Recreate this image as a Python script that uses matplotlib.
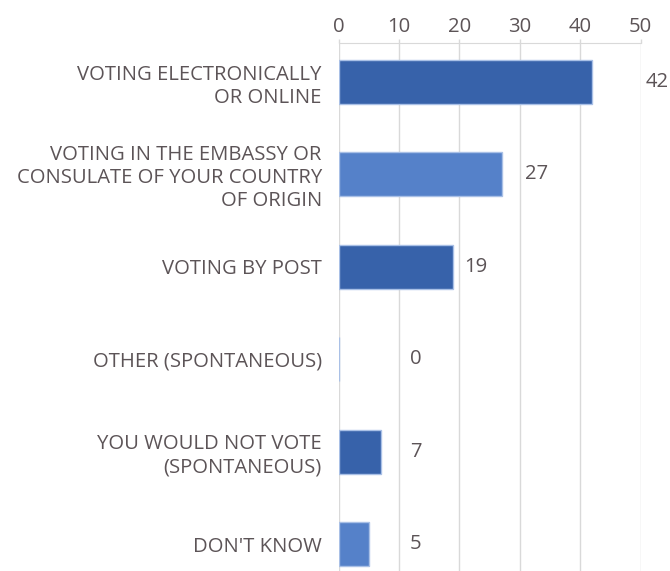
import numpy as np
import matplotlib
matplotlib.use("Agg")
import matplotlib.pyplot as plt

categories = [
    "VOTING ELECTRONICALLY\nOR ONLINE",
    "VOTING IN THE EMBASSY OR\nCONSULATE OF YOUR COUNTRY\nOF ORIGIN",
    "VOTING BY POST",
    "OTHER (SPONTANEOUS)",
    "YOU WOULD NOT VOTE\n(SPONTANEOUS)",
    "DON'T KNOW",
]
values = [42, 27, 19, 0, 7, 5]
x_ticks = [0, 10, 20, 30, 40, 50]

DARK = "#3762AA"
LIGHT = "#5581C9"
TEXT = "#5C5457"
GRID = "#D9D9D9"
FS = 14.6

plt.rcParams["font.family"] = ["Open Sans", "DejaVu Sans"]

fig = plt.figure(figsize=(6.7, 5.71), dpi=100)
ax = fig.add_axes([338.5 / 670, 0, (640.7 - 338.5) / 670, 1 - 43 / 571])

ypos = np.arange(len(categories))
colors = [DARK if i % 2 == 0 else LIGHT for i in range(len(categories))]
ax.barh(ypos, values, height=0.476, color=colors,
        edgecolor="#A9C0E6", linewidth=1.0, zorder=3)

# value labels sit just past the next gridline
for y, v in zip(ypos, values):
    lx = (v // 10 + 1) * 10 + 2.8
    ax.text(lx, y, str(v), ha="center", va="center",
            fontsize=FS, color=TEXT, clip_on=False)

ax.set_xlim(0, 50)
ax.set_ylim(5.29, -0.422)
ax.set_xticks(x_ticks)
ax.set_yticks(ypos)
ax.set_yticklabels(categories, linespacing=1.2)

ax.xaxis.tick_top()
ax.tick_params(axis="x", colors=GRID, labelcolor=TEXT, labelsize=FS,
               length=3, width=1, pad=1.5)
ax.tick_params(axis="y", length=0, labelsize=FS, labelcolor=TEXT, pad=12)

ax.grid(axis="x", color=GRID, linewidth=1, zorder=0)
for side in ["right", "bottom", "left"]:
    ax.spines[side].set_visible(False)
ax.spines["top"].set_color(GRID)

fig.savefig("out.png", dpi=100)
